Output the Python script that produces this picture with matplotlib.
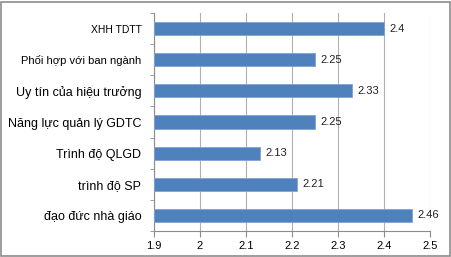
import matplotlib
matplotlib.use("Agg")
import matplotlib.pyplot as plt
from matplotlib.patches import Rectangle

categories = ["đạo đức nhà giáo", "trình độ SP", "Trình độ QLGD", "Năng lực quản lý GDTC",
              "Uy tín của hiệu trưởng", "Phối hợp với ban ngành", "XHH TDTT"]
values = [2.46, 2.21, 2.13, 2.25, 2.33, 2.25, 2.4]
value_labels = ["2.46", "2.21", "2.13", "2.25", "2.33", "2.25", "2.4"]
label_sizes = [9, 9, 9, 9, 9, 8, 7.5]
xticks = [1.9, 2.0, 2.1, 2.2, 2.3, 2.4, 2.5]
xticklabels = ["1.9", "2", "2.1", "2.2", "2.3", "2.4", "2.5"]

plt.rcParams['font.family'] = ['Liberation Sans', 'DejaVu Sans']

fig = plt.figure(figsize=(4.52, 2.57), dpi=100)
fig.patches.append(Rectangle((0.002, 0.004), 0.993, 0.99, transform=fig.transFigure,
                             fill=False, edgecolor='#8c8c8c', linewidth=1.2))
ax = fig.add_axes([154/452, 26/257, 276/452, 218/257])

y = list(range(len(categories)))
ax.barh(y, [v - 1.9 for v in values], left=1.9, height=0.42, color='#4F81BD',
        edgecolor='#7FA3D1', linewidth=0.6, zorder=3)
for yi, v, lab in zip(y, values, value_labels):
    ax.text(v + 0.012, yi, lab, va='center', ha='left', fontsize=8, color='#222222')

ax.set_xlim(1.9, 2.5)
ax.set_ylim(-0.5, len(categories) - 0.5)
ax.set_xticks(xticks)
ax.set_xticklabels(xticklabels, fontsize=8)
ax.set_yticks(y)
ax.set_yticklabels(categories)
for t, s in zip(ax.get_yticklabels(), label_sizes):
    t.set_fontsize(s)
ax.tick_params(axis='y', length=0, pad=9)
ax.tick_params(axis='x', length=4, color='#8c8c8c', pad=3)
ax.set_yticks([i - 0.5 for i in range(len(categories) + 1)], minor=True)
ax.tick_params(axis='y', which='minor', length=3, color='#8c8c8c')
ax.grid(axis='x', color='#b0b0b0', linewidth=0.8, zorder=0)
for side in ['top', 'right']:
    ax.spines[side].set_visible(False)
for side in ['left', 'bottom']:
    ax.spines[side].set_color('#8c8c8c')
    ax.spines[side].set_linewidth(0.8)

fig.savefig("out.png", dpi=100)
